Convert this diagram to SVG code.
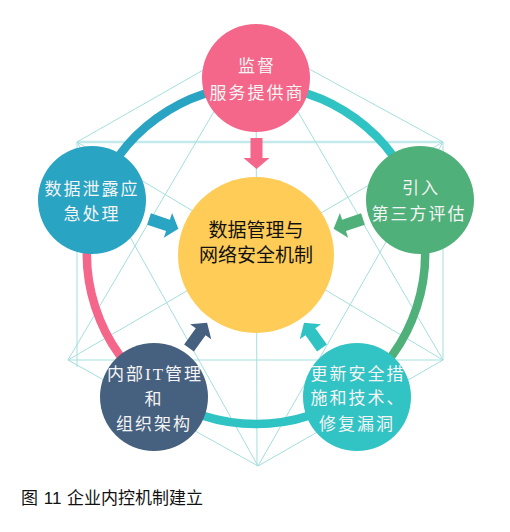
<svg xmlns="http://www.w3.org/2000/svg" width="510" height="532" viewBox="0 0 510 532">
<style>
.bg{fill:none;stroke:#a5dede;stroke-width:1}
.bgw{fill:none;stroke:#c3eaeb;stroke-width:2.5}
.ring{fill:none;stroke-width:8.5}
.nt{font-family:"Liberation Serif","Noto Sans CJK SC",serif;font-size:17px;fill:#f4f4f4;text-anchor:middle;letter-spacing:2px}
.ct{font-family:"Noto Sans CJK SC",sans-serif;font-size:19px;fill:#111;text-anchor:middle}
.cap{font-family:"Liberation Sans","Noto Sans CJK SC",sans-serif;font-size:17px;fill:#111;word-spacing:1px}
</style>
<defs>
<path id="arw" d="M0,-6 L20,-6 L20,-13 L31,0 L20,13 L20,6 L0,6 Z"/>
</defs>
<rect width="510" height="532" fill="#fff"/>
<g id="background">
<line class="bgw" x1="77" y1="142" x2="443" y2="142"/>
<line class="bg" x1="256" y1="40" x2="77" y2="142"/>
<line class="bg" x1="256" y1="40" x2="443" y2="142"/>
<line class="bg" x1="77" y1="142" x2="77" y2="367"/>
<line class="bg" x1="443" y1="142" x2="443" y2="360"/>
<line class="bg" x1="68" y1="360" x2="258" y2="466"/>
<line class="bg" x1="443" y1="360" x2="258" y2="466"/>
<line class="bg" x1="68" y1="360" x2="443" y2="360"/>
<line class="bg" x1="256" y1="40" x2="68" y2="360"/>
<line class="bg" x1="256" y1="40" x2="443" y2="360"/>
<line class="bg" x1="77" y1="142" x2="258" y2="466"/>
<line class="bg" x1="443" y1="142" x2="258" y2="466"/>
<line class="bg" x1="68" y1="360" x2="443" y2="142"/>
<line class="bg" x1="443" y1="360" x2="77" y2="142"/>
<line class="bg" x1="256" y1="40" x2="257" y2="466"/>
</g>
<g id="connectors">
<path class="ring" stroke="#2aa4c3" d="M256 86 A169 169 0 0 0 95.3 202.8"/>
<path class="ring" stroke="#30c3c4" d="M256 86 A169 169 0 0 1 416.7 202.8"/>
<path class="ring" stroke="#50b07a" d="M416.7 202.8 A169 169 0 0 1 355.3 391.7"/>
<path class="ring" stroke="#30c3c4" d="M355.3 391.7 A169 169 0 0 1 156.7 391.7"/>
<path class="ring" stroke="#f4678a" d="M156.7 391.7 A169 169 0 0 1 95.3 202.8"/>
<use href="#arw" fill="#f4678a" transform="translate(256.5,138) rotate(90)"/>
<use href="#arw" fill="#2aa4c3" transform="translate(149,219) rotate(18.5)"/>
<use href="#arw" fill="#50b07a" transform="translate(363,219) rotate(161.5)"/>
<use href="#arw" fill="#46607f" transform="translate(189,348) rotate(-54.3)"/>
<use href="#arw" fill="#30c3c4" transform="translate(322,348) rotate(-125.4)"/>
</g>
<g id="center">
<circle cx="256" cy="255" r="78" fill="#fecc57"/>
<text class="ct" x="256" y="237">数据管理与</text>
<text class="ct" x="256" y="262">网络安全机制</text>
</g>
<g id="top">
<circle cx="256" cy="78" r="54" fill="#f4678a"/>
<text class="nt" x="257" y="71.5">监督</text>
<text class="nt" x="257" y="98.5">服务提供商</text>
</g>
<g id="left">
<circle cx="92" cy="200" r="54" fill="#2aa4c3"/>
<text class="nt" x="92" y="194.5">数据泄露应</text>
<text class="nt" x="92" y="219.5">急处理</text>
</g>
<g id="right">
<circle cx="420" cy="200" r="54" fill="#50b07a"/>
<text class="nt" x="421" y="193.5">引入</text>
<text class="nt" x="419" y="219.5">第三方评估</text>
</g>
<g id="bottom-left">
<circle cx="154" cy="397" r="54" fill="#46607f"/>
<text class="nt" x="155" y="379.5">内部IT管理</text>
<text class="nt" x="154" y="404.5">和</text>
<text class="nt" x="154" y="429.5">组织架构</text>
</g>
<g id="bottom-right">
<circle cx="357" cy="397" r="54" fill="#32c3c4"/>
<text class="nt" x="358" y="379.5">更新安全措</text>
<text class="nt" x="358" y="403.5">施和技术、</text>
<text class="nt" x="357" y="429.5">修复漏洞</text>
</g>
<text class="cap" x="21" y="504">图 11 企业内控机制建立</text>
</svg>
